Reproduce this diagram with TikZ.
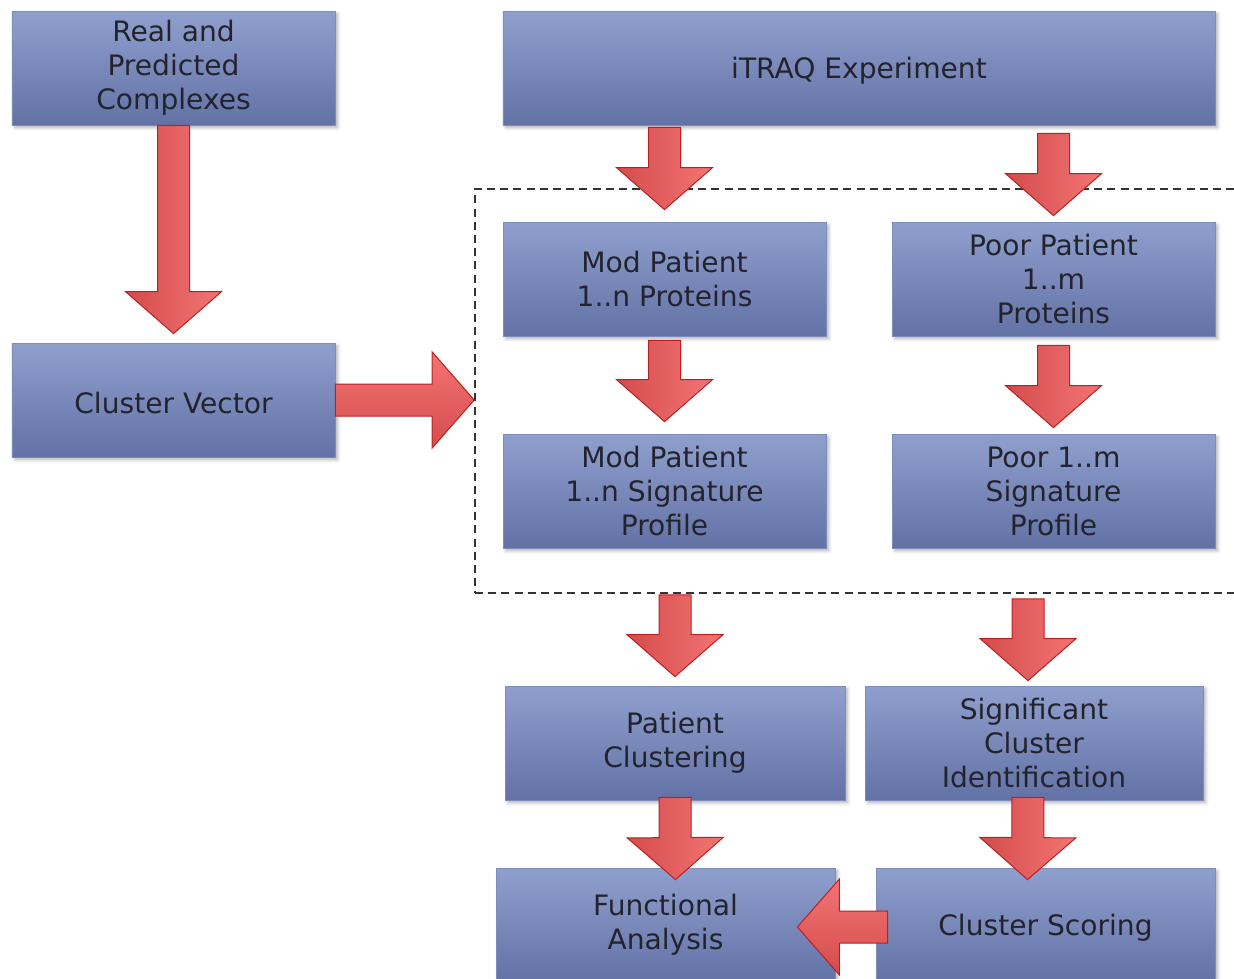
\documentclass[tikz,border=0pt]{standalone}
\usepackage{fontspec}
\setmainfont{DejaVu Sans}
\usetikzlibrary{calc,shadows.blur}

\definecolor{boxtop}{RGB}{143,159,205}
\definecolor{boxbot}{RGB}{99,114,166}
\definecolor{boxline}{RGB}{125,140,188}
\definecolor{arrowlight}{RGB}{243,116,116}
\definecolor{arrowdark}{RGB}{212,76,76}
\definecolor{arrowline}{RGB}{192,30,30}
\definecolor{inktext}{RGB}{35,35,45}

\newcommand{\blockarrow}[3][]{%
  % #1 extra style, #2 tail, #3 tip
  \draw[barrow,#1] let \p1=#2, \p2=#3,
      \n1={veclen(\x2-\x1,\y2-\y1)}, \n2={atan2(\y2-\y1,\x2-\x1)} in
    [shift={(\p1)}, rotate=\n2]
    (0mm,-4mm) -- ({\n1*1pt-10.5mm},-4mm) -- ({\n1*1pt-10.5mm},-12mm)
    -- ({\n1*1pt},0mm) -- ({\n1*1pt-10.5mm},12mm) -- ({\n1*1pt-10.5mm},4mm)
    -- (0mm,4mm) -- cycle;
}

\begin{document}
\begin{tikzpicture}[x=0.25mm,y=-0.25mm]

% styles
\tikzset{
  box/.style={rectangle, draw=boxline, line width=0.2mm,
    top color=boxtop, bottom color=boxbot,
    minimum width=80.75mm, minimum height=28.5mm, inner sep=0pt,
    align=center, text=inktext, font=\fontsize{20}{24.2}\selectfont,
    execute at begin node={\rule{0pt}{19.5pt}},
    blur shadow={shadow xshift=0.7mm, shadow yshift=-0.7mm,
      shadow blur radius=0.8mm, shadow opacity=30}},
  widebox/.style={box, minimum width=85mm},
  grpbox/.style={rectangle, draw=black!80, line width=0.4mm,
    dash pattern=on 2mm off 1.3mm,
    minimum width=191.25mm, minimum height=101mm},
  barrow/.style={draw=arrowline, line width=0.25mm,
    left color=arrowdark, right color=arrowlight},
  hbar/.style={top color=arrowlight, bottom color=arrowdark},
}

\clip (0,0) rectangle (1234,978);

% ---------------- group of patient steps ----------------
\node[grpbox] (grp) at (857.5,391) {};

% ---------------- boxes ----------------
\node[box] (real) at (173.5,68) {Real and\\Predicted\\Complexes};
\node[box, minimum width=178mm] (itraq) at (859,68) {iTRAQ Experiment};
\node[box] (cvec) at (173.5,400) {Cluster Vector};

\node[box] (modprot) at (664.5,279) {Mod Patient\\1..n Proteins};
\node[box] (poorprot) at (1053.5,279) {Poor Patient\\1..m\\Proteins};
\node[box] (modsig) at (664.5,491) {Mod Patient\\1..n Signature\\Profile};
\node[box] (poorsig) at (1053.5,491) {Poor 1..m\\Signature\\Profile};

\node[widebox] (pclust) at (675,743) {Patient\\Clustering};
\node[widebox, minimum width=84.5mm] (sigclust) at (1034,743) {Significant\\Cluster\\Identification};
\node[widebox, minimum width=84.75mm] (func) at (665.5,925) {Functional\\Analysis};
\node[widebox, minimum width=84.75mm] (score) at (1045.5,925) {Cluster Scoring};

% ---------------- arrows ----------------
\blockarrow{(real.south)}{($(cvec.north)+(0,-9)$)}
\blockarrow[hbar]{(cvec.east)}{(grp.west |- cvec.east)}

\blockarrow{($(itraq.south -| modprot.north)+(0,2)$)}{($(modprot.north)+(0,-12)$)}
\blockarrow{($(itraq.south -| poorprot.north)+(0,8)$)}{($(poorprot.north)+(0,-6)$)}
\blockarrow{($(modprot.south)+(0,4)$)}{($(modsig.north)+(0,-12)$)}
\blockarrow{($(poorprot.south)+(0,9)$)}{($(poorsig.north)+(0,-6)$)}

\blockarrow{($(grp.south -| pclust.north)+(0,1)$)}{($(pclust.north)+(0,-9)$)}
\blockarrow{($(grp.south -| sigclust.north)+(-6,5)$)}{($(sigclust.north)+(-6,-5)$)}
\blockarrow{($(pclust.south)+(0,-3)$)}{($(func.north)+(10,12)$)}
\blockarrow{($(sigclust.south)+(-6,-3)$)}{($(score.north)+(-18,12)$)}
\blockarrow[hbar]{($(score.west)+(12,2)$)}{($(func.east)+(-38,2)$)}

\end{tikzpicture}
\end{document}
